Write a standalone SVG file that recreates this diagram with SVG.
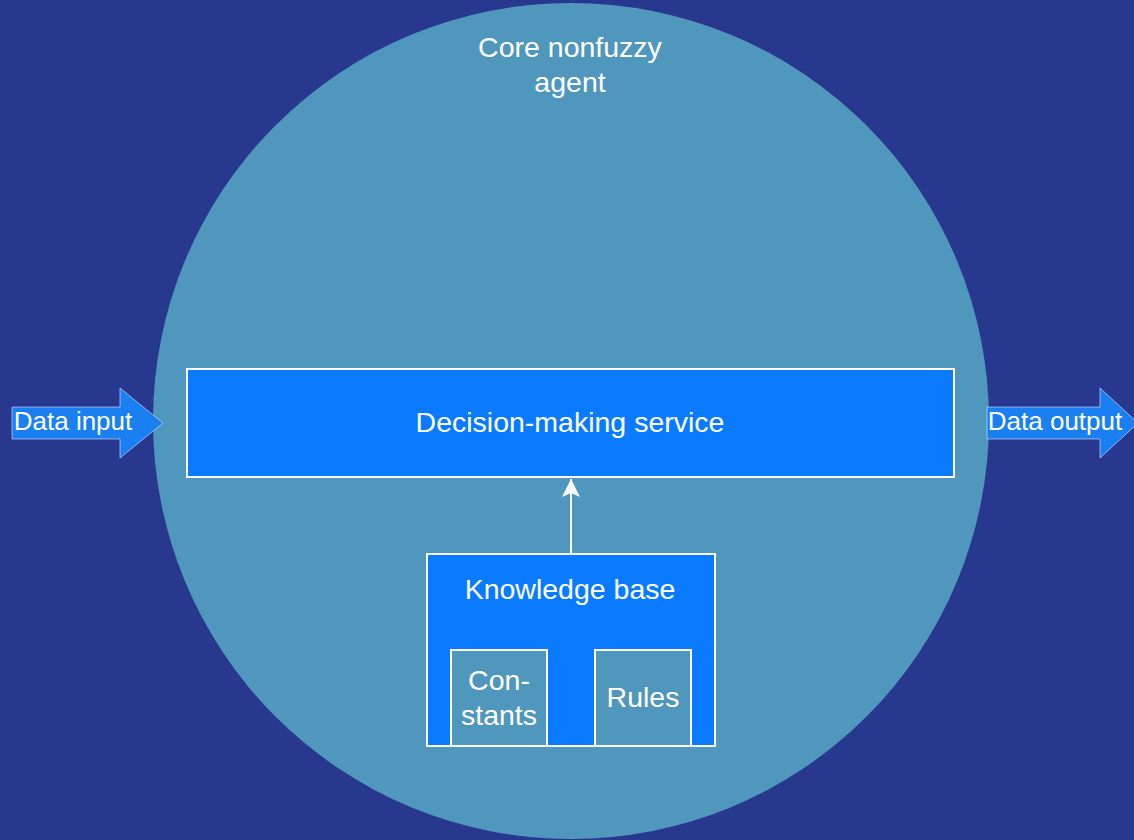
<svg xmlns="http://www.w3.org/2000/svg" width="1134" height="840" viewBox="0 0 1134 840">
<defs>
<style>
.t{font-family:"Liberation Sans",Arial,sans-serif;fill:#ffffff;text-anchor:middle}
.box{fill:#0a7bff;stroke:#ffffff;stroke-width:2}
.inner{fill:#5097bd;stroke:#ffffff;stroke-width:2}
.barrow{fill:#1a80f2;stroke:#d8e6ff;stroke-width:1;stroke-opacity:0.6}
</style>
<marker id="ah" viewBox="0 0 20 20" refX="19" refY="10" markerWidth="20" markerHeight="20" markerUnits="userSpaceOnUse" orient="auto">
<path d="M19 10 L1 1 L5 10 L1 19 Z" fill="#ffffff"/>
</marker>
</defs>
<rect width="1134" height="840" fill="#29388f"/>
<g id="agent">
<circle cx="571" cy="421" r="418" fill="#5097bd"/>
<text class="t" x="570" y="57" font-size="28.5">Core nonfuzzy</text>
<text class="t" x="570" y="92" font-size="28.5">agent</text>
</g>
<g id="decision">
<rect class="box" x="187" y="369" width="767" height="108"/>
<text class="t" x="570" y="432" font-size="28.5">Decision-making service</text>
</g>
<g id="knowledge">
<rect class="box" x="427" y="554" width="288" height="192"/>
<text class="t" x="570" y="599" font-size="28.5">Knowledge base</text>
</g>
<g id="constants">
<rect class="inner" x="451" y="650" width="96" height="96"/>
<text class="t" x="499" y="690" font-size="28.5">Con-</text>
<text class="t" x="499" y="725" font-size="28.5">stants</text>
</g>
<g id="rules">
<rect class="inner" x="595" y="650" width="96" height="96"/>
<text class="t" x="643" y="707" font-size="28.5">Rules</text>
</g>
<g id="data-input">
<polygon class="barrow" points="12,407 120,407 120,388 163,423 120,458 120,439 12,439"/>
<text class="t" x="73" y="430" font-size="26">Data input</text>
</g>
<g id="data-output">
<polygon class="barrow" points="987,407 1100,407 1100,388 1138,423 1100,458 1100,439 987,439"/>
<text class="t" x="1055" y="430" font-size="26">Data output</text>
</g>
<g id="connectors">
<line x1="571" y1="554" x2="571" y2="479" stroke="#ffffff" stroke-width="2" marker-end="url(#ah)"/>
</g>
</svg>
